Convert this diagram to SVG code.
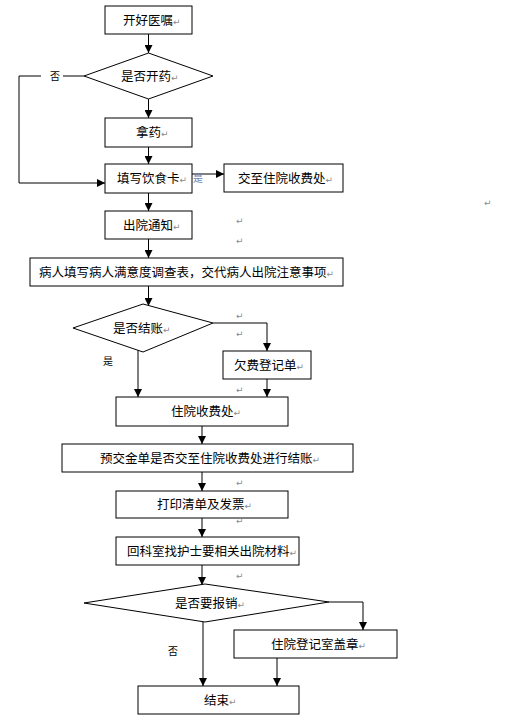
<svg xmlns="http://www.w3.org/2000/svg" width="509" height="717" viewBox="0 0 509 717">
<style>
.box{fill:#fff;stroke:#000;stroke-width:1}
.ln{fill:none;stroke:#000;stroke-width:1}
.t{font-family:"Noto Sans CJK SC","DejaVu Sans",sans-serif;font-size:12.5px;fill:#000}
.pm{font-family:"DejaVu Sans","Noto Sans CJK SC",sans-serif;font-size:9px;fill:#8a8a8a}
.lb{font-family:"Noto Sans CJK SC","DejaVu Sans",sans-serif;font-size:10px;fill:#000}
</style>
<defs>
<marker id="ah" markerWidth="9" markerHeight="8" refX="8" refY="4" orient="auto" markerUnits="userSpaceOnUse">
<path d="M0,0 L8,4 L0,8 Z" fill="#000"/>
</marker>
</defs>
<rect width="509" height="717" fill="#fff"/>
<g id="connectors">
<path class="ln" d="M148.5,34 V53" marker-end="url(#ah)"/>
<path class="ln" d="M148.5,99 V118" marker-end="url(#ah)"/>
<path class="ln" d="M148.5,147 V164" marker-end="url(#ah)"/>
<path class="ln" d="M84,76 H63"/>
<path class="ln" d="M41,76 H19 V183 H105" marker-end="url(#ah)"/>
<path class="ln" d="M192,174 H224" marker-end="url(#ah)"/>
<path class="ln" d="M148.5,193 V211" marker-end="url(#ah)"/>
<path class="ln" d="M148.5,239 V258" marker-end="url(#ah)"/>
<path class="ln" d="M148.5,286 V306" marker-end="url(#ah)"/>
<path class="ln" d="M213,323 H267 V351" marker-end="url(#ah)"/>
<path class="ln" d="M138,350 V397" marker-end="url(#ah)"/>
<path class="ln" d="M267,379 V397" marker-end="url(#ah)"/>
<path class="ln" d="M202,426 V444" marker-end="url(#ah)"/>
<path class="ln" d="M202,472 V491" marker-end="url(#ah)"/>
<path class="ln" d="M202,518 V537" marker-end="url(#ah)"/>
<path class="ln" d="M202,565 V585" marker-end="url(#ah)"/>
<path class="ln" d="M329,602 H363 V630" marker-end="url(#ah)"/>
<path class="ln" d="M203,621 V686" marker-end="url(#ah)"/>
<path class="ln" d="M277,658 V686" marker-end="url(#ah)"/>
<text class="lb" x="50" y="80">否</text>
<text class="lb" x="193" y="182" fill="#6a7fb0" style="fill:#6a7fb0">是</text>
<text class="lb" x="103" y="365">是</text>
<text class="lb" x="168" y="655">否</text>
</g>
<g id="n1"><rect class="box" x="105" y="6" width="87" height="28"/><text class="t" x="123" y="25">开好医嘱<tspan class="pm">↵</tspan></text></g>
<g id="n2"><polygon class="box" points="148.5,53 213,76 148.5,99 84,76"/><text class="t" x="121" y="80.5">是否开药<tspan class="pm">↵</tspan></text></g>
<g id="n3"><rect class="box" x="105" y="118" width="87" height="29"/><text class="t" x="136" y="137">拿药<tspan class="pm">↵</tspan></text></g>
<g id="n4"><rect class="box" x="105" y="164" width="87" height="29"/><text class="t" x="117" y="183">填写饮食卡<tspan class="pm">↵</tspan></text></g>
<g id="n5"><rect class="box" x="224" y="164" width="119" height="28"/><text class="t" x="238" y="182.5">交至住院收费处<tspan class="pm">↵</tspan></text></g>
<g id="n6"><rect class="box" x="105" y="211" width="87" height="28"/><text class="t" x="123" y="230">出院通知<tspan class="pm">↵</tspan></text></g>
<g id="n7"><rect class="box" x="30" y="258" width="313" height="28"/><text class="t" x="39" y="277">病人填写病人满意度调查表，交代病人出院注意事项<tspan class="pm">↵</tspan></text></g>
<g id="n8"><polygon class="box" points="143,304 213,323 143,352 73,328"/><text class="t" x="113" y="332.5">是否结账<tspan class="pm">↵</tspan></text></g>
<g id="n9"><rect class="box" x="223" y="351" width="88" height="28"/><text class="t" x="234" y="369.5">欠费登记单<tspan class="pm">↵</tspan></text></g>
<g id="n10"><rect class="box" x="116" y="397" width="172" height="29"/><text class="t" x="171" y="416">住院收费处<tspan class="pm">↵</tspan></text></g>
<g id="n11"><rect class="box" x="62" y="444" width="291" height="28"/><text class="t" x="100" y="462.5">预交金单是否交至住院收费处进行结账<tspan class="pm">↵</tspan></text></g>
<g id="n12"><rect class="box" x="116" y="491" width="172" height="27"/><text class="t" x="157" y="509">打印清单及发票<tspan class="pm">↵</tspan></text></g>
<g id="n13"><rect class="box" x="116" y="537" width="183" height="28"/><text class="t" x="127" y="555.5">回科室找护士要相关出院材料<tspan class="pm">↵</tspan></text></g>
<g id="n14"><polygon class="box" points="205,584 329,602 205,622 84,603"/><text class="t" x="175" y="607.5">是否要报销<tspan class="pm">↵</tspan></text></g>
<g id="n15"><rect class="box" x="234" y="630" width="163" height="28"/><text class="t" x="271" y="648.5">住院登记室盖章<tspan class="pm">↵</tspan></text></g>
<g id="n16"><rect class="box" x="138" y="686" width="161" height="28"/><text class="t" x="204" y="704.5">结束<tspan class="pm">↵</tspan></text></g>
<g id="marks">
<text class="pm" x="484" y="206">↵</text>
<text class="pm" x="236" y="224">↵</text>
<text class="pm" x="236" y="244">↵</text>
<text class="pm" x="236" y="319">↵</text>
<text class="pm" x="236" y="337">↵</text>
<text class="pm" x="236" y="393">↵</text>
<text class="pm" x="236" y="486">↵</text>
<text class="pm" x="236" y="524">↵</text>
<text class="pm" x="236" y="579">↵</text>
</g>
</svg>
